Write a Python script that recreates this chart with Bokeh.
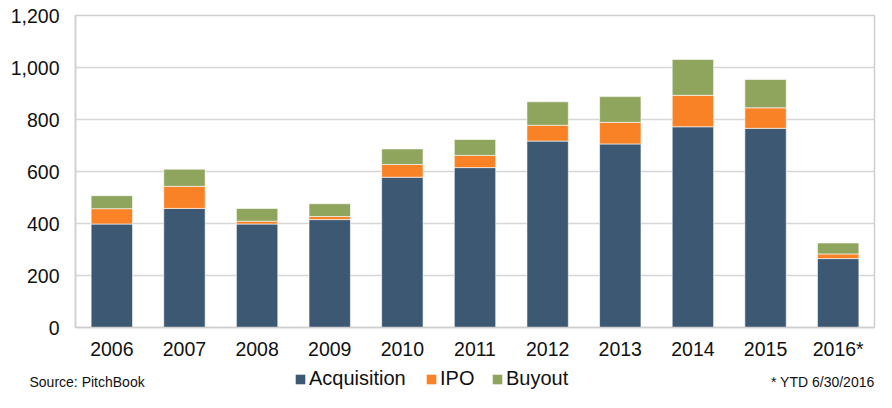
from bokeh.plotting import figure
from bokeh.layouts import column
from bokeh.models import (FactorRange, Range1d, NumeralTickFormatter, Legend, LegendItem,
                          Label, FixedTicker)
from bokeh.embed import file_html
from bokeh.resources import INLINE

years = ["2006", "2007", "2008", "2009", "2010", "2011", "2012", "2013", "2014", "2015", "2016*"]
acquisition = [398, 458, 398, 415, 578, 615, 717, 706, 772, 766, 265]
ipo = [59, 85, 11, 12, 49, 47, 61, 83, 121, 79, 18]
buyout = [50, 66, 49, 49, 60, 61, 90, 99, 138, 109, 42]
series = ["Acquisition", "IPO", "Buyout"]
colors = ["#3c5873", "#f98226", "#8fa55d"]
y_ticks = [0, 200, 400, 600, 800, 1000, 1200]

FONT = "Liberation Sans"
TXT = "#111111"

data = dict(years=years, Acquisition=acquisition, IPO=ipo, Buyout=buyout)

fig = figure(x_range=FactorRange(*years), y_range=Range1d(0, 1200),
             width=876, height=362, output_backend="svg", toolbar_location=None,
             min_border_left=75, min_border_right=2, min_border_top=15, min_border_bottom=33)
fig.frame_align = False

rs = fig.vbar_stack(series, x="years", width=0.57, color=colors, source=data,
                    line_color="white", line_width=0.6)

fig.outline_line_color = "#cfcfcf"
fig.outline_line_width = 1.5
fig.xgrid.grid_line_color = None
fig.ygrid.grid_line_color = "#d6d6d6"
fig.ygrid.grid_line_width = 1.5
fig.yaxis.ticker = FixedTicker(ticks=y_ticks)
fig.yaxis.formatter = NumeralTickFormatter(format="0,0")

for ax in (fig.xaxis[0], fig.yaxis[0]):
    ax.axis_line_color = "#cfcfcf"
    ax.axis_line_width = 1.5
    ax.major_tick_line_color = None
    ax.minor_tick_line_color = None
    ax.major_tick_out = 0
    ax.major_tick_in = 0
    ax.major_label_text_font = FONT
    ax.major_label_text_font_size = "19.5px"
    ax.major_label_text_color = TXT
fig.yaxis.major_label_standoff = 16
fig.xaxis.major_label_standoff = 10

# footer strip: legend + source notes
foot = figure(width=876, height=30, x_range=Range1d(0, 876), y_range=Range1d(0, 30),
              output_backend="svg", toolbar_location=None, min_border=0,
              x_axis_location=None, y_axis_location=None)
foot.frame_align = False
foot.grid.visible = False
foot.outline_line_color = None

leg_x = [294, 425, 491]
for name, c, lx in zip(series, colors, leg_x):
    # zero-size swatch carrier for the legend entry
    dummy = foot.vbar(x=[0], top=[0], bottom=[0], width=0, fill_color=c, line_color=None)
    lg = Legend(items=[LegendItem(label=name, renderers=[dummy])], location=(lx, 2),
                orientation="horizontal", glyph_width=12, glyph_height=12,
                label_standoff=3, padding=0, spacing=0, margin=0,
                border_line_color=None, background_fill_alpha=0,
                label_text_font=FONT, label_text_font_size="20px",
                label_text_color=TXT)
    foot.add_layout(lg, "center")

src = Label(x=29, y=11, x_units="screen", y_units="screen", text="Source: PitchBook",
            text_font=FONT, text_font_size="14px", text_color=TXT, text_baseline="middle")
note = Label(x=874, y=11, x_units="screen", y_units="screen", text="* YTD 6/30/2016",
             text_font=FONT, text_font_size="14px", text_color=TXT, text_baseline="middle",
             text_align="right")
foot.add_layout(src)
foot.add_layout(note)

p = column(fig, foot, spacing=0)

open("out.html", "w").write(file_html(p, INLINE))
